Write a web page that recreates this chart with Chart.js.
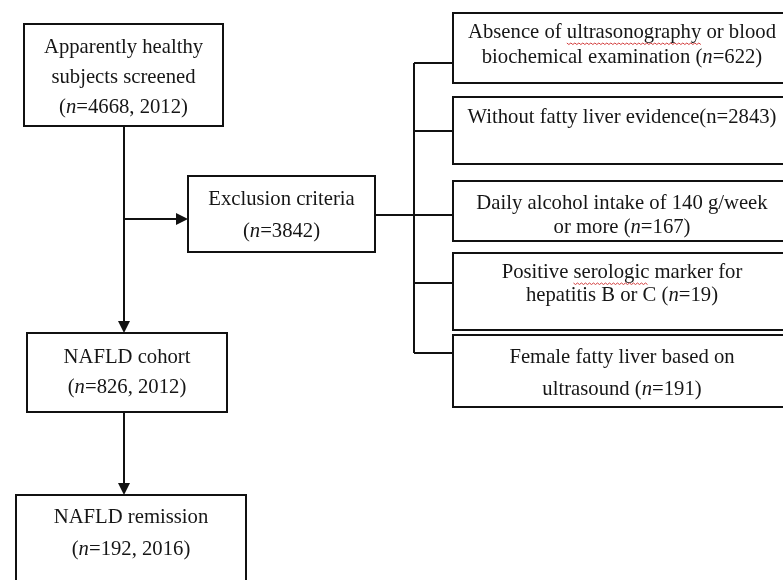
<!DOCTYPE html>
<html>
<head>
<meta charset="utf-8">
<script src="https://cdn.jsdelivr.net/npm/chart.js@4"></script>
<style>
  html, body { margin: 0; padding: 0; background: #fff; }
  #wrap { width: 783px; height: 580px; position: relative; }
</style>
</head>
<body>
<div id="wrap"><canvas id="flowChart"></canvas></div>
<script>
// Study flow data
const mainSteps = ["Apparently healthy subjects screened", "NAFLD cohort", "NAFLD remission"];
const mainCounts = [4668, 826, 192];
const mainYears = [2012, 2012, 2016];
const exclusionLabel = "Exclusion criteria";
const exclusionTotal = 3842;
const exclusionCounts = [622, 2843, 167, 19, 191];

// Text lines per box (*x* = italic, ~x~ = spell-check underline)
const mainLines = [
  ["Apparently healthy", "subjects screened", `(*n*=${mainCounts[0]}, ${mainYears[0]})`],
  [mainSteps[1], `(*n*=${mainCounts[1]}, ${mainYears[1]})`],
  [mainSteps[2], `(*n*=${mainCounts[2]}, ${mainYears[2]})`],
];
const exclusionLines = [exclusionLabel, `(*n*=${exclusionTotal})`];
const reasonLines = [
  ["Absence of ~ultrasonography~ or blood", `biochemical examination (*n*=${exclusionCounts[0]})`],
  [`Without fatty liver evidence(n=${exclusionCounts[1]})`],
  ["Daily alcohol intake of 140 g/week", `or more (*n*=${exclusionCounts[2]})`],
  ["Positive ~serologic~ marker for", `hepatitis B or C (*n*=${exclusionCounts[3]})`],
  ["Female fatty liver based on", `ultrasound (*n*=${exclusionCounts[4]})`],
];

// Layout (box edges and text line positions, in scale units)
const mainBoxes = [
  { l: 24, t: 24, r: 223, b: 126, ys: [48, 78, 108] },
  { l: 27, t: 333, r: 227, b: 412, ys: [358, 388] },
  { l: 16, t: 495, r: 246, b: 600, ys: [518, 550] },
];
const exclusionBox = { l: 188, t: 176, r: 375, b: 252, ys: [200, 232] };
const reasonBoxes = [
  { t: 13, b: 83, ys: [33, 58] },
  { t: 97, b: 164, ys: [118] },
  { t: 181, b: 241, ys: [204, 228] },
  { t: 253, b: 330, ys: [273, 296] },
  { t: 335, b: 407, ys: [358, 390] },
];
const reasonLeft = 453, reasonRight = 795, reasonTextX = 622;
const spineX = 124, busX = 414, branchY = [63, 131, 215, 283, 353];

const FONT = '"Liberation Serif", "Times New Roman", serif';
const FONT_SIZE = 20.7;

function drawRich(ctx, text, cx, cy) {
  const parts = text.split(/(\*[^*]+\*|~[^~]+~)/).filter(s => s.length);
  const segs = parts.map(p => {
    let italic = false, squiggle = false, s = p;
    if (p.startsWith("*")) { italic = true; s = p.slice(1, -1); }
    if (p.startsWith("~")) { squiggle = true; s = p.slice(1, -1); }
    ctx.font = (italic ? "italic " : "") + FONT_SIZE + "px " + FONT;
    return { s, italic, squiggle, w: ctx.measureText(s).width };
  });
  const total = segs.reduce((a, g) => a + g.w, 0);
  let x = cx - total / 2;
  segs.forEach(g => {
    ctx.font = (g.italic ? "italic " : "") + FONT_SIZE + "px " + FONT;
    ctx.fillStyle = "#161616";
    ctx.fillText(g.s, x, cy);
    if (g.squiggle) {
      ctx.save();
      ctx.strokeStyle = "#d23c3c";
      ctx.lineWidth = 1;
      ctx.beginPath();
      const uy = cy + 10;
      for (let i = 0; i <= g.w; i += 2) {
        const yy = uy + ((i / 2) % 2 === 0 ? 0 : 1.5);
        if (i === 0) ctx.moveTo(x + i, yy); else ctx.lineTo(x + i, yy);
      }
      ctx.stroke();
      ctx.restore();
    }
    x += g.w;
  });
}

const flowPlugin = {
  id: "flow",
  afterDraw(chart) {
    const ctx = chart.ctx;
    const X = v => chart.scales.x.getPixelForValue(v);
    const Y = v => chart.scales.y.getPixelForValue(v);
    ctx.save();
    ctx.strokeStyle = "#111";
    ctx.lineWidth = 2;
    ctx.textBaseline = "middle";
    ctx.textAlign = "left";

    const line = (x1, y1, x2, y2) => {
      ctx.beginPath();
      ctx.moveTo(X(x1), Y(y1));
      ctx.lineTo(X(x2), Y(y2));
      ctx.stroke();
    };
    const arrowDown = (x, y) => {
      ctx.beginPath();
      ctx.moveTo(X(x), Y(y));
      ctx.lineTo(X(x) - 6, Y(y) - 12);
      ctx.lineTo(X(x) + 6, Y(y) - 12);
      ctx.closePath();
      ctx.fillStyle = "#111";
      ctx.fill();
    };
    const arrowRight = (x, y) => {
      ctx.beginPath();
      ctx.moveTo(X(x), Y(y));
      ctx.lineTo(X(x) - 12, Y(y) - 6);
      ctx.lineTo(X(x) - 12, Y(y) + 6);
      ctx.closePath();
      ctx.fillStyle = "#111";
      ctx.fill();
    };
    const box = (l, t, r, b) => {
      ctx.strokeRect(X(l), Y(t), X(r) - X(l), Y(b) - Y(t));
    };

    // connectors
    line(spineX, mainBoxes[0].b, spineX, mainBoxes[1].t - 10);
    arrowDown(spineX, mainBoxes[1].t);
    line(spineX, 219, exclusionBox.l - 10, 219);
    arrowRight(exclusionBox.l, 219);
    line(spineX, mainBoxes[1].b, spineX, mainBoxes[2].t - 10);
    arrowDown(spineX, mainBoxes[2].t);
    line(exclusionBox.r, 215, busX, 215);
    line(busX, branchY[0], busX, branchY[branchY.length - 1]);
    branchY.forEach(y => line(busX, y, reasonLeft, y));

    // boxes and labels
    mainBoxes.forEach((bx, i) => {
      box(bx.l, bx.t, bx.r, bx.b);
      mainLines[i].forEach((s, j) => drawRich(ctx, s, X((bx.l + bx.r) / 2), Y(bx.ys[j])));
    });
    box(exclusionBox.l, exclusionBox.t, exclusionBox.r, exclusionBox.b);
    exclusionLines.forEach((s, j) =>
      drawRich(ctx, s, X((exclusionBox.l + exclusionBox.r) / 2), Y(exclusionBox.ys[j])));
    reasonBoxes.forEach((bx, i) => {
      box(reasonLeft, bx.t, reasonRight, bx.b);
      reasonLines[i].forEach((s, j) => drawRich(ctx, s, X(reasonTextX), Y(bx.ys[j])));
    });
    ctx.restore();
  },
};

new Chart(document.getElementById("flowChart"), {
  type: "scatter",
  data: { datasets: [{ data: [], pointRadius: 0 }] },
  options: {
    responsive: true,
    maintainAspectRatio: false,
    animation: false,
    layout: { padding: 0 },
    plugins: { legend: { display: false }, tooltip: { enabled: false } },
    scales: {
      x: { type: "linear", min: 0, max: 783, display: false },
      y: { type: "linear", min: 0, max: 580, reverse: true, display: false },
    },
  },
  plugins: [flowPlugin],
});
</script>
</body>
</html>
